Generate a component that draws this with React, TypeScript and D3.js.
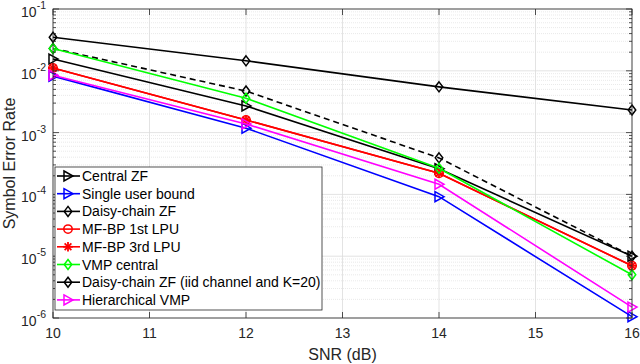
import React from 'react';
import * as d3 from 'd3';

const snr = [10, 12, 14, 16];
const centralZF = [0.0155, 0.0027, 0.00026, 1.0e-5];
const singleUser = [0.0082, 0.00118, 0.000092, 1.05e-6];
const daisyZF = [0.023, 0.0047, 0.00039, 1.0e-5];
const mfbp1 = [0.0111, 0.0016, 0.00022, 7.0e-6];
const mfbp3 = [0.0111, 0.0016, 0.00022, 7.0e-6];
const vmpCentral = [0.023, 0.0036, 0.000264, 5.0e-6];
const daisyIid = [0.035, 0.0145, 0.0055, 0.00232];
const hierVMP = [0.0085, 0.00138, 0.000146, 1.5e-6];

const xTicks = [10, 11, 12, 13, 14, 15, 16];
const yDecades = [-6, -5, -4, -3, -2, -1];

type Marker = 'tri' | 'diamond' | 'circle' | 'star';
type Series = { name: string; values: number[]; color: string; marker: Marker; dashed?: boolean };

const series: Series[] = [
  { name: 'Central ZF', values: centralZF, color: '#000000', marker: 'tri' },
  { name: 'Single user bound', values: singleUser, color: '#0000ff', marker: 'tri' },
  { name: 'Daisy-chain ZF', values: daisyZF, color: '#000000', marker: 'diamond', dashed: true },
  { name: 'MF-BP 1st LPU', values: mfbp1, color: '#ff0000', marker: 'circle' },
  { name: 'MF-BP 3rd LPU', values: mfbp3, color: '#ff0000', marker: 'star' },
  { name: 'VMP central', values: vmpCentral, color: '#00ff00', marker: 'diamond' },
  { name: 'Daisy-chain ZF (iid channel and K=20)', values: daisyIid, color: '#000000', marker: 'diamond' },
  { name: 'Hierarchical VMP', values: hierVMP, color: '#ff00ff', marker: 'tri' },
];

const left = 53, right = 632, top = 9, bottom = 318;
const font = '"Liberation Sans", Arial, sans-serif';

const MarkerShape = ({ type, x, y, color }: { type: Marker; x: number; y: number; color: string }) => {
  const s = 5;
  if (type === 'tri') {
    return <path d={`M${x - s * 0.8},${y - s}L${x + s},${y}L${x - s * 0.8},${y + s}Z`} fill="none" stroke={color} strokeWidth={1.5} />;
  }
  if (type === 'diamond') {
    return <path d={`M${x},${y - s}L${x + s * 0.75},${y}L${x},${y + s}L${x - s * 0.75},${y}Z`} fill="none" stroke={color} strokeWidth={1.5} />;
  }
  if (type === 'circle') {
    return <circle cx={x} cy={y} r={4.2} fill="none" stroke={color} strokeWidth={1.5} />;
  }
  const r = 4.8;
  return (
    <g stroke={color} strokeWidth={1.8}>
      <line x1={x - r} y1={y} x2={x + r} y2={y} />
      <line x1={x} y1={y - r} x2={x} y2={y + r} />
      <line x1={x - r * 0.7} y1={y - r * 0.7} x2={x + r * 0.7} y2={y + r * 0.7} />
      <line x1={x - r * 0.7} y1={y + r * 0.7} x2={x + r * 0.7} y2={y - r * 0.7} />
    </g>
  );
};

export default function App() {
  const x = d3.scaleLinear().domain([10, 16]).range([left, right]);
  const y = d3.scaleLog().domain([1e-6, 1e-1]).range([bottom, top]);

  const minor: number[] = [];
  yDecades.slice(0, -1).forEach(d => {
    for (let k = 2; k <= 9; k++) minor.push(k * Math.pow(10, d));
  });

  const line = d3.line<number>().x((_, i) => x(snr[i])).y(d => y(d));

  const legX = 55, legY = 167, legW = 267, legH = 143, rowH = 17.7;

  return (
    <svg width={640} height={364} style={{ position: 'absolute', left: 0, top: 0, background: '#fff' }} fontFamily={font}>
      <rect x={left} y={top} width={right - left} height={bottom - top} fill="#fff" />
      {minor.map((v, i) => (
        <line key={'mg' + i} x1={left} x2={right} y1={y(v)} y2={y(v)} stroke="#e4e4e4" strokeWidth={0.8} strokeDasharray="1,1" />
      ))}
      {yDecades.map(d => (
        <line key={'yg' + d} x1={left} x2={right} y1={y(Math.pow(10, d))} y2={y(Math.pow(10, d))} stroke="#dcdcdc" strokeWidth={0.8} />
      ))}
      {xTicks.map(t => (
        <line key={'xg' + t} x1={x(t)} x2={x(t)} y1={top} y2={bottom} stroke="#dcdcdc" strokeWidth={0.8} />
      ))}

      {series.map(s => (
        <g key={s.name}>
          <path d={line(s.values) || ''} fill="none" stroke={s.color} strokeWidth={1.6} strokeDasharray={s.dashed ? '6,4' : undefined} />
          {s.values.map((v, i) => (
            <MarkerShape key={i} type={s.marker} x={x(snr[i])} y={y(v)} color={s.color} />
          ))}
        </g>
      ))}

      {/* axes box and ticks */}
      <rect x={left} y={top} width={right - left} height={bottom - top} fill="none" stroke="#262626" strokeWidth={0.8} />
      {xTicks.map(t => (
        <g key={'xt' + t}>
          <line x1={x(t)} x2={x(t)} y1={bottom} y2={bottom - 6} stroke="#262626" strokeWidth={0.8} />
          <line x1={x(t)} x2={x(t)} y1={top} y2={top + 6} stroke="#262626" strokeWidth={0.8} />
          <text x={x(t)} y={bottom + 20} textAnchor="middle" fontSize={14} fill="#262626">{t}</text>
        </g>
      ))}
      {yDecades.map(d => {
        const yy = y(Math.pow(10, d));
        return (
          <g key={'yt' + d}>
            <line x1={left} x2={left + 6} y1={yy} y2={yy} stroke="#262626" strokeWidth={0.8} />
            <line x1={right} x2={right - 6} y1={yy} y2={yy} stroke="#262626" strokeWidth={0.8} />
            <text x={46} y={yy + 8} textAnchor="end" fontSize={14} fill="#262626">
              10<tspan dy={-8} fontSize={10.5}>{d}</tspan>
            </text>
          </g>
        );
      })}
      {minor.map((v, i) => (
        <g key={'mt' + i}>
          <line x1={left} x2={left + 3} y1={y(v)} y2={y(v)} stroke="#262626" strokeWidth={0.8} />
          <line x1={right} x2={right - 3} y1={y(v)} y2={y(v)} stroke="#262626" strokeWidth={0.8} />
        </g>
      ))}

      <text x={(left + right) / 2} y={360} textAnchor="middle" fontSize={16} fill="#262626">SNR (dB)</text>
      <text transform={`translate(15,${(top + bottom) / 2}) rotate(-90)`} textAnchor="middle" fontSize={16} fill="#262626">Symbol Error Rate</text>

      {/* legend */}
      <rect x={legX} y={legY} width={legW} height={legH} fill="#fff" stroke="#262626" strokeWidth={0.8} />
      {series.map((s, i) => {
        const ly = legY + 9 + i * rowH;
        return (
          <g key={'lg' + s.name}>
            <line x1={legX + 2} x2={legX + 25} y1={ly} y2={ly} stroke={s.color} strokeWidth={1.6} />
            <MarkerShape type={s.marker} x={legX + 13} y={ly} color={s.color} />
            <text x={legX + 27} y={ly + 5} fontSize={14} fill="#000">{s.name}</text>
          </g>
        );
      })}
    </svg>
  );
}
